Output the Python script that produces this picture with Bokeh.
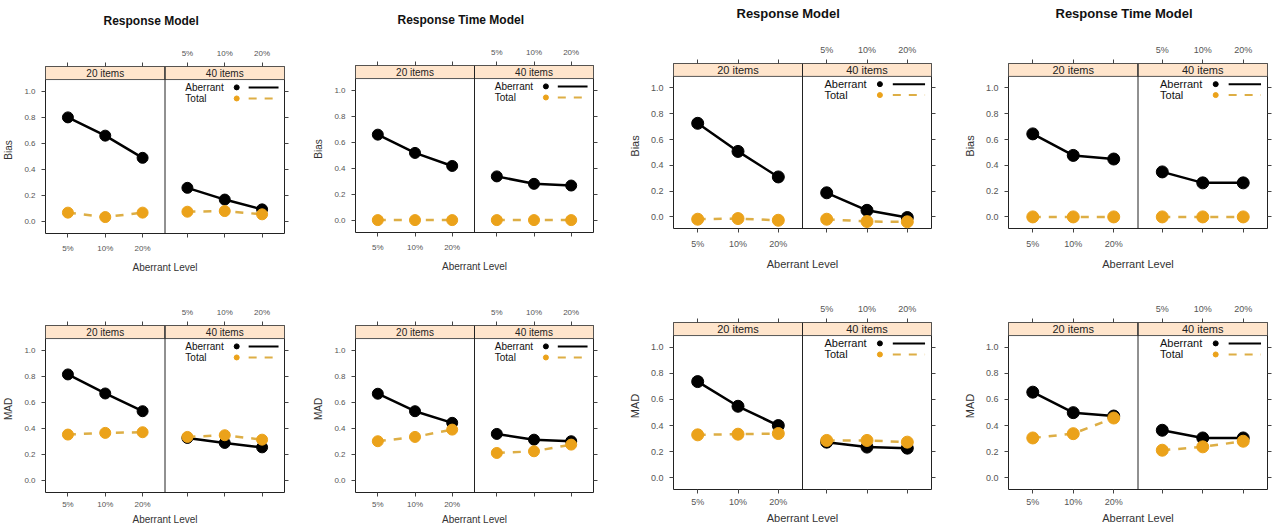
from bokeh.plotting import figure
from bokeh.layouts import column, row
from bokeh.models import (Range1d, LinearAxis, FixedTicker, CustomJSTickFormatter,
                          PrintfTickFormatter, Span)
from bokeh.core.properties import value
from bokeh.embed import file_html
from bokeh.resources import INLINE

# ---------------- data ----------------
levels = ["5%", "10%", "20%"]
item_panels = ["20 items", "40 items"]
series_names = ["Aberrant", "Total"]
y_ticks = [0.0, 0.2, 0.4, 0.6, 0.8, 1.0]
titles = ["Response Model", "Response Time Model", "Response Model", "Response Time Model"]
y_labels = ["Bias", "MAD"]
x_label = "Aberrant Level"

# Bias - Response Model (left block)
bias_rm_a_aberrant_20 = [0.80, 0.66, 0.49]
bias_rm_a_aberrant_40 = [0.26, 0.17, 0.095]
bias_rm_a_total_20 = [0.07, 0.036, 0.07]
bias_rm_a_total_40 = [0.077, 0.082, 0.057]
# Bias - Response Time Model (left block)
bias_rt_a_aberrant_20 = [0.66, 0.52, 0.42]
bias_rt_a_aberrant_40 = [0.34, 0.283, 0.27]
bias_rt_a_total_20 = [0.005, 0.005, 0.005]
bias_rt_a_total_40 = [0.005, 0.005, 0.005]
# Bias - Response Model (right block)
bias_rm_b_aberrant_20 = [0.726, 0.508, 0.31]
bias_rm_b_aberrant_40 = [0.187, 0.051, -0.005]
bias_rm_b_total_20 = [-0.018, -0.013, -0.026]
bias_rm_b_total_40 = [-0.018, -0.036, -0.038]
# Bias - Response Time Model (right block)
bias_rt_b_aberrant_20 = [0.644, 0.477, 0.449]
bias_rt_b_aberrant_40 = [0.349, 0.264, 0.264]
bias_rt_b_total_20 = [0.0, 0.0, 0.0]
bias_rt_b_total_40 = [0.0, 0.0, 0.0]
# MAD - Response Model (left block)
mad_rm_a_aberrant_20 = [0.815, 0.669, 0.533]
mad_rm_a_aberrant_40 = [0.328, 0.29, 0.256]
mad_rm_a_total_20 = [0.354, 0.367, 0.372]
mad_rm_a_total_40 = [0.336, 0.349, 0.315]
# MAD - Response Time Model (left block)
mad_rt_a_aberrant_20 = [0.667, 0.533, 0.444]
mad_rt_a_aberrant_40 = [0.359, 0.315, 0.303]
mad_rt_a_total_20 = [0.303, 0.336, 0.392]
mad_rt_a_total_40 = [0.213, 0.226, 0.277]
# MAD - Response Model (right block)
mad_rm_b_aberrant_20 = [0.737, 0.548, 0.40]
mad_rm_b_aberrant_40 = [0.273, 0.235, 0.227]
mad_rm_b_total_20 = [0.329, 0.334, 0.339]
mad_rm_b_total_40 = [0.286, 0.286, 0.273]
# MAD - Response Time Model (right block)
mad_rt_b_aberrant_20 = [0.656, 0.499, 0.473]
mad_rt_b_aberrant_40 = [0.364, 0.305, 0.305]
mad_rt_b_total_20 = [0.305, 0.338, 0.458]
mad_rt_b_total_40 = [0.211, 0.237, 0.28]

# ---------------- styling / layout constants ----------------
FONT = "Liberation Sans"
BLACK = "#000000"
ORANGE = "#EBA21A"
ORANGE_LINE = "#DDAE45"
STRIP_FILL = "#FFE5CC"
FRAME_COL = "#222222"
TICK_COL = "#444444"
LABEL_COL = "#555555"

N = len(levels)
PAD = 0.6
SUB_W = (N - 1) + 2 * PAD
X0 = 1 - PAD
Y_LO, Y_HI = -0.09, 1.09
STRIP = 0.10


def sub_formatter(panel):
    return CustomJSTickFormatter(
        args=dict(labels=levels, off=panel * SUB_W),
        code="const i = Math.round(tick - 1 - off); return (i >= 0 && i < labels.length) ? labels[i] : '';")


def style_axis(ax, fs_tick, fs_lab, tick_std, lab_std):
    ax.axis_line_color = None
    ax.major_tick_in = 0
    ax.major_tick_out = 4
    ax.major_tick_line_color = TICK_COL
    ax.minor_tick_line_color = None
    ax.major_label_text_font = FONT
    ax.major_label_text_font_size = f"{fs_tick}px"
    ax.major_label_text_color = LABEL_COL
    ax.major_label_standoff = tick_std
    ax.axis_label_text_font = FONT
    ax.axis_label_text_font_style = "normal"
    ax.axis_label_text_font_size = f"{fs_lab}px"
    ax.axis_label_text_color = "#333333"
    ax.axis_label_standoff = lab_std


def make_group(title, ylab, ab, tot, geo, fs):
    W, H, L, R, T, B, t_off, t_gap = geo
    f_title, f_strip, f_leg, f_tick, f_lab, msize, bot_std, bot_lab_std = fs
    p = figure(width=W, height=H,
               x_range=Range1d(X0, X0 + 2 * SUB_W),
               y_range=Range1d(Y_LO, Y_HI + STRIP),
               x_axis_location=None, y_axis_location=None,
               toolbar_location=None, output_backend="svg",
               min_border_left=L, min_border_right=R,
               min_border_top=T, min_border_bottom=B,
               title=title)
    p.grid.visible = False
    p.outline_line_color = FRAME_COL
    p.outline_line_width = 1
    p.background_fill_color = "white"
    p.border_fill_color = "white"
    if title is not None:
        p.title.text_font = FONT
        p.title.text_font_size = f"{f_title}px"
        p.title.text_font_style = "bold"
        p.title.text_color = "#111111"
        p.title.align = "left"
        p.title.offset = t_off
        p.title.standoff = 6

    xticks = [k + 1 + j * SUB_W for j in range(2) for k in range(N)]
    bottom = LinearAxis(ticker=FixedTicker(ticks=xticks), formatter=sub_formatter(0),
                        axis_label=x_label)
    style_axis(bottom, f_tick, f_lab, bot_std, bot_lab_std)
    top = LinearAxis(ticker=FixedTicker(ticks=xticks), formatter=sub_formatter(1),
                     axis_label=(" " if title is not None else None))
    style_axis(top, f_tick, 10, 5, t_gap)
    left = LinearAxis(ticker=FixedTicker(ticks=y_ticks), formatter=PrintfTickFormatter(format="%.1f"),
                      axis_label=ylab)
    style_axis(left, f_tick, f_lab, 6, 7)
    right = LinearAxis(ticker=FixedTicker(ticks=y_ticks), formatter=CustomJSTickFormatter(code="return '';"))
    style_axis(right, f_tick, f_lab, 0, 0)
    p.add_layout(bottom, "below")
    p.add_layout(top, "above")
    p.add_layout(left, "left")
    p.add_layout(right, "right")

    # strips
    for j, name in enumerate(item_panels):
        lft = X0 + j * SUB_W
        p.quad(left=[lft], right=[lft + SUB_W], bottom=[Y_HI], top=[Y_HI + STRIP],
               fill_color=STRIP_FILL, line_color="#555555", line_width=1)
        p.text(x=[lft + SUB_W / 2], y=[Y_HI + STRIP / 2], text=[name],
               text_align="center", text_baseline="middle",
               text_font=value(FONT), text_font_size=f"{f_strip}px", text_color="#222222")
    p.add_layout(Span(location=X0 + SUB_W, dimension="height", line_color=FRAME_COL, line_width=1))

    # data
    for j in range(2):
        xs = [k + 1 + j * SUB_W for k in range(N)]
        p.line(xs, ab[j], line_color=BLACK, line_width=2.5)
        p.scatter(xs, ab[j], size=msize, fill_color=BLACK, line_color=BLACK)
        p.line(xs, tot[j], line_color=ORANGE_LINE, line_width=2.5, line_dash="8 8")
        p.scatter(xs, tot[j], size=msize, fill_color=ORANGE, line_color=ORANGE)

    # key (top right of the 40-items panel)
    leg_text_x = X0 + SUB_W * 1.17
    leg_dot_x = X0 + SUB_W * 1.60
    leg_l0, leg_l1 = X0 + SUB_W * 1.70, X0 + SUB_W * 1.95
    leg_y = [Y_HI - 0.06, Y_HI - 0.145]
    cols = [BLACK, ORANGE]
    lcols = [BLACK, ORANGE_LINE]
    dashes = ["solid", "8 8"]
    for s, name in enumerate(series_names):
        p.text(x=[leg_text_x], y=[leg_y[s]], text=[name], text_align="left", text_baseline="middle",
               text_font=value(FONT), text_font_size=f"{f_leg}px", text_color="#111111")
        p.scatter([leg_dot_x], [leg_y[s]], size=5, fill_color=cols[s], line_color=cols[s])
        p.line([leg_l0, leg_l1], [leg_y[s], leg_y[s]], line_color=lcols[s], line_width=2, line_dash=dashes[s])
    return p


# geometry: (canvas W, canvas H, border L, R, T, B, title offset, title gap)
geo_top = [(305, 281, 45, 21, 66, 48, 58, 1), (320, 281, 50, 32, 65, 49, 42, 1),
           (325, 281, 45, 19, 61, 53, 63, 4), (323, 281, 58, 6, 61, 53, 47, 4)]
geo_bot = [(305, 249, 45, 21, 44, 38, 0, 0), (320, 249, 50, 32, 44, 38, 0, 0),
           (325, 249, 45, 19, 41, 41, 0, 0), (323, 249, 58, 6, 41, 41, 0, 0)]
# (title, strip, key, tick, axis label, marker, bottom tick standoff, xlabel standoff)
fs_small_top = (12, 10, 10, 8, 10, 11, 6, 6)
fs_big_top = (13, 11, 11, 9, 11, 12, 6, 6)
fs_small_bot = (12, 10, 10, 8, 10, 11, 3, 2)
fs_big_bot = (13, 11, 11, 9, 11, 12, 3, 2)

bias_groups = [
    ([bias_rm_a_aberrant_20, bias_rm_a_aberrant_40], [bias_rm_a_total_20, bias_rm_a_total_40]),
    ([bias_rt_a_aberrant_20, bias_rt_a_aberrant_40], [bias_rt_a_total_20, bias_rt_a_total_40]),
    ([bias_rm_b_aberrant_20, bias_rm_b_aberrant_40], [bias_rm_b_total_20, bias_rm_b_total_40]),
    ([bias_rt_b_aberrant_20, bias_rt_b_aberrant_40], [bias_rt_b_total_20, bias_rt_b_total_40]),
]
mad_groups = [
    ([mad_rm_a_aberrant_20, mad_rm_a_aberrant_40], [mad_rm_a_total_20, mad_rm_a_total_40]),
    ([mad_rt_a_aberrant_20, mad_rt_a_aberrant_40], [mad_rt_a_total_20, mad_rt_a_total_40]),
    ([mad_rm_b_aberrant_20, mad_rm_b_aberrant_40], [mad_rm_b_total_20, mad_rm_b_total_40]),
    ([mad_rt_b_aberrant_20, mad_rt_b_aberrant_40], [mad_rt_b_total_20, mad_rt_b_total_40]),
]

top_row = []
bot_row = []
for i in range(4):
    fst = fs_small_top if i < 2 else fs_big_top
    fsb = fs_small_bot if i < 2 else fs_big_bot
    ab, tot = bias_groups[i]
    top_row.append(column(make_group(titles[i], y_labels[0], ab, tot, geo_top[i], fst)))
    ab, tot = mad_groups[i]
    bot_row.append(column(make_group(None, y_labels[1], ab, tot, geo_bot[i], fsb)))

layout = column(row(*top_row, spacing=0), row(*bot_row, spacing=0), spacing=0)
open("out.html", "w").write(file_html(layout, INLINE))
